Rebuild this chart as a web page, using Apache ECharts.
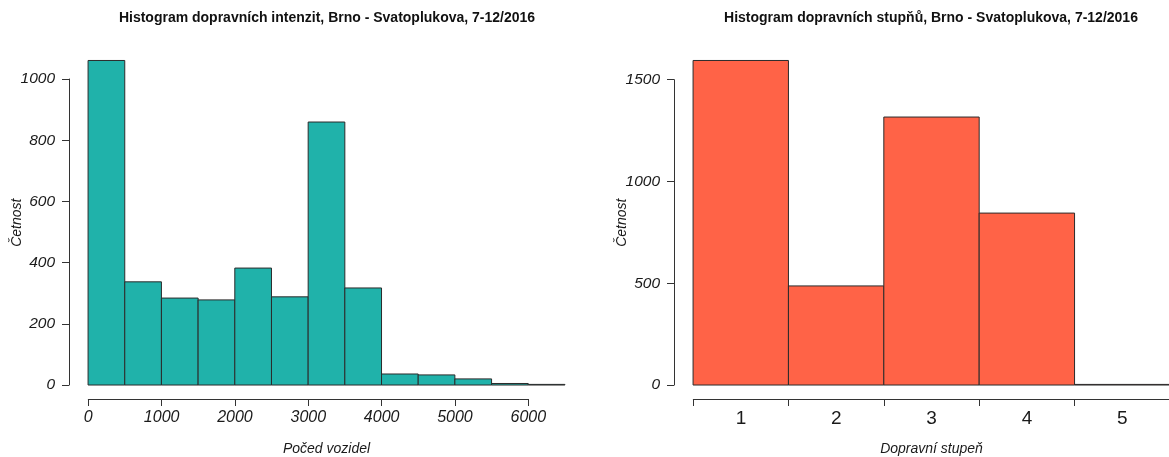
<!DOCTYPE html>
<html>
<head>
<meta charset="utf-8">
<script src="https://cdn.jsdelivr.net/npm/echarts@6/dist/echarts.min.js"></script>
<style>html,body{margin:0;padding:0;background:#fff}#c{width:1169px;height:457px}</style>
</head>
<body>
<div id="c"></div>
<script>
// ---- data ----
const titleLeft = 'Histogram dopravních intenzit, Brno - Svatoplukova, 7-12/2016';
const titleRight = 'Histogram dopravních stupňů, Brno - Svatoplukova, 7-12/2016';
const intensityBreaks = [0, 500, 1000, 1500, 2000, 2500, 3000, 3500, 4000, 4500, 5000, 5500, 6000, 6500];
const intensityCounts = [1060, 337, 284, 278, 382, 288, 859, 317, 36, 33, 20, 5, 2];
const intensityTicks = [0, 1000, 2000, 3000, 4000, 5000, 6000];
const intensityYTicks = [0, 200, 400, 600, 800, 1000];
const degreeLabels = ['1', '2', '3', '4', '5'];
const degreeBreaks = [0.5, 1.5, 2.5, 3.5, 4.5, 5.5];
const degreeCounts = [1595, 487, 1317, 845, 3];
const degreeYTicks = [0, 500, 1000, 1500];
const xNameLeft = 'Počed vozidel';
const xNameRight = 'Dopravní stupeň';
const yName = 'Četnost';

// ---- layout ----
const FONT = '"Liberation Sans", Arial, sans-serif';
const AX = '#333';
const TXT = '#1a1a1a';
const plotTop = 47.5, plotH = 350.5, plotW = 515;
const plain = v => String(v);

function binsOf(breaks, counts) {
  return counts.map((c, i) => [breaks[i], breaks[i + 1], c]);
}
function ext(lo, hi) { const d = (hi - lo) * 0.04; return [lo - d, hi + d]; }

const lx = ext(intensityBreaks[0], intensityBreaks[intensityBreaks.length - 1]);
const ly = ext(0, Math.max(...intensityCounts));
const rx = ext(degreeBreaks[0], degreeBreaks[degreeBreaks.length - 1]);
const ry = ext(0, Math.max(...degreeCounts));

function hiddenAxis(gi, mn, mx, name, isY) {
  const a = {
    gridIndex: gi, type: 'value', min: mn, max: mx,
    axisLine: {show: false}, axisTick: {show: false}, axisLabel: {show: false}, splitLine: {show: false},
    name: name, nameLocation: 'middle', nameGap: isY ? 45 : 44,
    nameTextStyle: {fontFamily: FONT, fontSize: 14, fontStyle: 'italic', color: TXT}
  };
  if (isY) a.nameRotate = 90;
  return a;
}
function invis(gi) {
  return {gridIndex: gi, type: 'value', show: false, min: 0, max: 1};
}
const lineStyle = {color: AX, width: 1};

function renderBar(params, api) {
  const p0 = api.coord([api.value(0), api.value(2)]);
  const p1 = api.coord([api.value(1), 0]);
  return {
    type: 'rect',
    shape: {x: p0[0], y: p0[1], width: p1[0] - p0[0], height: p1[1] - p0[1]},
    style: {fill: api.visual('color'), stroke: '#2b2b2b', lineWidth: 1}
  };
}

const grids = [
  {left: 69, top: plotTop, width: plotW, height: plotH},             // 0 left bars
  {left: 88.3, top: 390, width: 440, height: 9},                      // 1 left x axis
  {left: 69, top: 79, width: 10, height: 306},                        // 2 left y axis
  {left: 674, top: plotTop, width: plotW, height: plotH},            // 3 right bars
  {left: 693.3, top: 390, width: 476.7, height: 9},                   // 4 right x axis
  {left: 674, top: 79.7, width: 10, height: 305.3}                    // 5 right y axis
].map(g => Object.assign({containLabel: false, outerBoundsMode: 'none', show: false}, g));

const option = {
  animation: false,
  backgroundColor: '#fff',
  title: [
    {text: titleLeft, left: 327, top: 11, textAlign: 'center', padding: 0,
     textStyle: {fontFamily: FONT, fontSize: 14, fontWeight: 'bold', color: '#111'}},
    {text: titleRight, left: 931, top: 11, textAlign: 'center', padding: 0,
     textStyle: {fontFamily: FONT, fontSize: 14, fontWeight: 'bold', color: '#111'}}
  ],
  grid: grids,
  xAxis: [
    hiddenAxis(0, lx[0], lx[1], xNameLeft, false),
    {gridIndex: 1, type: 'value', min: intensityTicks[0], max: intensityTicks[intensityTicks.length - 1],
     interval: intensityTicks[1] - intensityTicks[0], position: 'bottom',
     axisLine: {show: true, lineStyle: lineStyle}, axisTick: {show: true, length: 7, lineStyle: lineStyle},
     splitLine: {show: false},
     axisLabel: {show: true, margin: 11, fontFamily: FONT, fontSize: 16, fontStyle: 'italic', color: TXT,
                 showMinLabel: true, showMaxLabel: true, formatter: plain}},
    invis(2),
    hiddenAxis(3, rx[0], rx[1], xNameRight, false),
    {gridIndex: 4, type: 'category', data: degreeLabels, boundaryGap: true, position: 'bottom',
     axisLine: {show: true, lineStyle: lineStyle}, axisTick: {show: true, length: 7, lineStyle: lineStyle},
     splitLine: {show: false},
     axisLabel: {show: true, margin: 10, fontFamily: FONT, fontSize: 19, color: TXT, interval: 0}},
    invis(5)
  ],
  yAxis: [
    hiddenAxis(0, ly[0], ly[1], yName, true),
    invis(1),
    {gridIndex: 2, type: 'value', min: intensityYTicks[0], max: intensityYTicks[intensityYTicks.length - 1],
     interval: intensityYTicks[1] - intensityYTicks[0], position: 'left',
     axisLine: {show: true, lineStyle: lineStyle}, axisTick: {show: true, length: 7, lineStyle: lineStyle},
     splitLine: {show: false},
     axisLabel: {show: true, margin: 14, fontFamily: FONT, fontSize: 15.5, fontStyle: 'italic', color: TXT,
                 formatter: plain}},
    hiddenAxis(3, ry[0], ry[1], yName, true),
    invis(4),
    {gridIndex: 5, type: 'value', min: degreeYTicks[0], max: degreeYTicks[degreeYTicks.length - 1],
     interval: degreeYTicks[1] - degreeYTicks[0], position: 'left',
     axisLine: {show: true, lineStyle: lineStyle}, axisTick: {show: true, length: 7, lineStyle: lineStyle},
     splitLine: {show: false},
     axisLabel: {show: true, margin: 14, fontFamily: FONT, fontSize: 15.5, fontStyle: 'italic', color: TXT,
                 formatter: plain}}
  ],
  series: [
    {type: 'custom', xAxisIndex: 0, yAxisIndex: 0, clip: false,
     itemStyle: {color: '#20B2AA'}, renderItem: renderBar,
     encode: {x: [0, 1], y: 2},
     data: binsOf(intensityBreaks, intensityCounts)},
    {type: 'custom', xAxisIndex: 3, yAxisIndex: 3, clip: false,
     itemStyle: {color: '#FF6347'}, renderItem: renderBar,
     encode: {x: [0, 1], y: 2},
     data: binsOf(degreeBreaks, degreeCounts)}
  ]
};
const chart = echarts.init(document.getElementById('c'), null, {renderer: 'canvas'});
chart.setOption(option);
</script>
</body>
</html>
